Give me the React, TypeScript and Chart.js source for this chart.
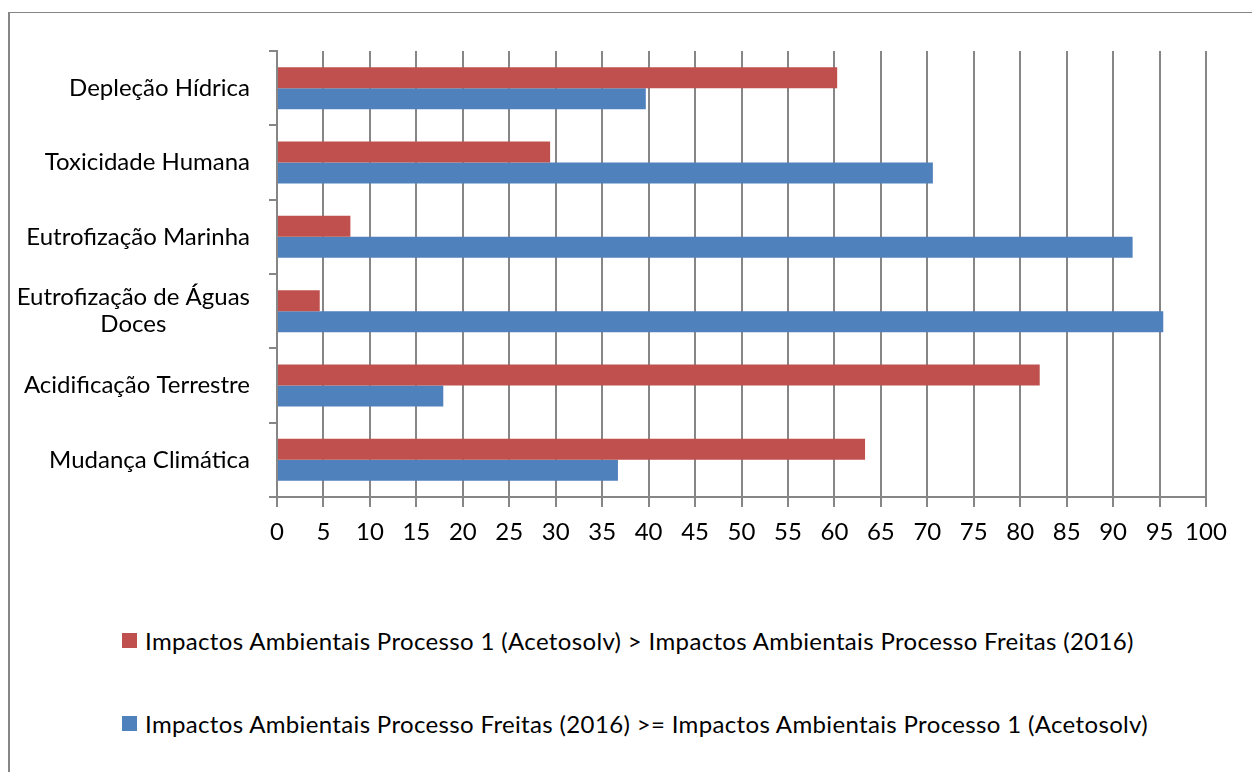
import React, { useEffect, useRef } from "react";
import { Chart, registerables } from "chart.js";

Chart.register(...registerables);

// Impact categories, top to bottom; a nested array is a label broken over two lines
const categories: (string | string[])[] = [
  "Depleção Hídrica",
  "Toxicidade Humana",
  "Eutrofização Marinha",
  ["Eutrofização de Águas", "Doces"],
  "Acidificação Terrestre",
  "Mudança Climática",
];

const seriesAcetosolvLabel =
  "Impactos Ambientais Processo 1 (Acetosolv) > Impactos Ambientais Processo Freitas (2016)";
const seriesFreitasLabel =
  "Impactos Ambientais Processo Freitas (2016) >= Impactos Ambientais Processo 1 (Acetosolv)";

const seriesAcetosolv = [60.3, 29.4, 7.9, 4.6, 82.1, 63.3];
const seriesFreitas = [39.7, 70.6, 92.1, 95.4, 17.9, 36.7];

const xTickMin = 0;
const xTickMax = 100;
const xTickStep = 5;

const RED = "#C0504D";
const BLUE = "#4F81BD";
const GRID = "#868686";
const FONT = "Lato";
const FONT_SIZE = 24;

const CANVAS_W = 1242;
const CANVAS_H = 560;
const Y_AXIS_W = 267;
const Y_TICK_LEN = 8;
const Y_LABEL_GAP = 19;

// Category labels: right-aligned block, lines centred within the block
const categoryLabels = {
  id: "categoryLabels",
  afterDraw(chart: any) {
    const scale = chart.scales.y;
    const ctx = chart.ctx as CanvasRenderingContext2D;
    ctx.save();
    ctx.font = `${FONT_SIZE}px ${FONT}`;
    ctx.fillStyle = "#000000";
    ctx.textAlign = "center";
    ctx.textBaseline = "middle";
    const right = scale.right - Y_TICK_LEN - Y_LABEL_GAP;
    const lineH = 27;
    categories.forEach((label, i) => {
      const lines = Array.isArray(label) ? label : [label];
      const y = scale.getPixelForValue(i);
      const w = Math.max(...lines.map((l) => ctx.measureText(l).width));
      const cx = right - w / 2;
      lines.forEach((line, j) => {
        ctx.fillText(line, cx, y + (j - (lines.length - 1) / 2) * lineH);
      });
    });
    ctx.restore();
  },
};

export default function App() {
  const canvasRef = useRef<HTMLCanvasElement | null>(null);

  useEffect(() => {
    if (!canvasRef.current) return;
    const chart = new Chart(canvasRef.current, {
      type: "bar",
      data: {
        labels: categories.map((c) => (Array.isArray(c) ? c.join(" ") : c)),
        datasets: [
          {
            label: seriesAcetosolvLabel,
            data: seriesAcetosolv,
            backgroundColor: RED,
            borderWidth: 0,
          },
          {
            label: seriesFreitasLabel,
            data: seriesFreitas,
            backgroundColor: BLUE,
            borderWidth: 0,
          },
        ],
      },
      options: {
        indexAxis: "y",
        responsive: false,
        animation: false,
        events: [],
        layout: { padding: { left: 0, top: 38, right: 46, bottom: 0 } },
        datasets: {
          bar: { categoryPercentage: 0.565, barPercentage: 1 },
        },
        plugins: {
          legend: { display: false },
          tooltip: { enabled: false },
          title: { display: false },
        },
        scales: {
          x: {
            type: "linear",
            min: xTickMin,
            max: xTickMax,
            afterFit: (scale: any) => {
              scale.height = CANVAS_H - 484;
            },
            ticks: {
              stepSize: xTickStep,
              color: "#000000",
              font: { family: FONT, size: FONT_SIZE },
              padding: 11,
              maxRotation: 0,
              autoSkip: false,
            },
            grid: {
              color: GRID,
              lineWidth: 2,
              tickLength: 10,
              drawOnChartArea: true,
              drawTicks: true,
            },
            border: { color: GRID, width: 2 },
          },
          y: {
            type: "category",
            offset: true,
            afterFit: (scale: any) => {
              scale.width = Y_AXIS_W;
            },
            ticks: { display: false },
            grid: {
              offset: true,
              color: GRID,
              lineWidth: 2,
              tickLength: Y_TICK_LEN,
              drawOnChartArea: false,
              drawTicks: true,
            },
            border: { color: GRID, width: 2 },
          },
        },
      },
      plugins: [categoryLabels],
    });
    return () => chart.destroy();
  }, []);

  const legendRows = [
    { color: RED, text: seriesAcetosolvLabel, center: 627 },
    { color: BLUE, text: seriesFreitasLabel, center: 710 },
  ];

  return (
    <div
      style={{
        position: "relative",
        top: 4,
        width: 1252,
        height: 764,
        boxSizing: "border-box",
        borderTop: `1px solid ${GRID}`,
        borderLeft: `2px solid ${GRID}`,
        background: "#ffffff",
        overflow: "hidden",
      }}
    >
      <canvas
        ref={canvasRef}
        width={CANVAS_W}
        height={CANVAS_H}
        style={{ position: "absolute", left: 0, top: 0, width: CANVAS_W, height: CANVAS_H }}
      />
      {legendRows.map((row) => (
        <div
          key={row.text}
          style={{
            position: "absolute",
            left: 112,
            top: row.center - 15,
            height: 30,
            display: "flex",
            alignItems: "center",
            whiteSpace: "nowrap",
            fontFamily: FONT,
            fontSize: FONT_SIZE,
            letterSpacing: "0.35px",
            color: "#000000",
          }}
        >
          <span
            style={{
              display: "inline-block",
              width: 15,
              height: 15,
              background: row.color,
              marginRight: 8,
            }}
          />
          <span>{row.text}</span>
        </div>
      ))}
    </div>
  );
}
